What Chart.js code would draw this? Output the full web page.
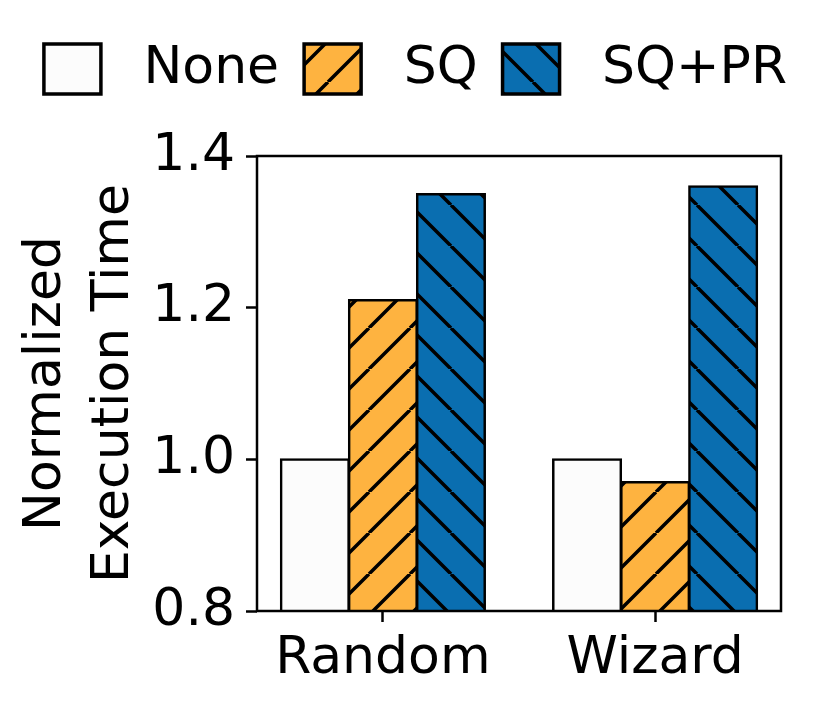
<!DOCTYPE html>
<html>
<head>
<meta charset="utf-8">
<script src="https://cdn.jsdelivr.net/npm/chart.js@4.4.0/dist/chart.umd.min.js"></script>
<style>
  html, body { margin: 0; padding: 0; background: #fff; }
  #wrap { width: 831px; height: 711px; }
</style>
</head>
<body>
<div id="wrap"><canvas id="c" width="831" height="711"></canvas></div>
<script>
// values
const groups = ['Random', 'Wizard'];
const seriesNames = ['None', 'SQ', 'SQ+PR'];
const noneValues = [1.0, 1.0];
const sqValues = [1.21, 0.97];
const sqprValues = [1.35, 1.36];
const yTicks = [0.8, 1.0, 1.2, 1.4];

const FONT = { family: 'DejaVu Sans', size: 52 };
const canvas = document.getElementById('c');
const ctx = canvas.getContext('2d');

// matplotlib-like hatch tile, '/' or '\'
function hatch(bg, dir) {
    const n = 41;
    const tile = document.createElement('canvas');
    tile.width = n;
    tile.height = n;
    const g = tile.getContext('2d');
    g.fillStyle = bg;
    g.fillRect(0, 0, n, n);
    g.strokeStyle = '#000';
    g.lineWidth = 3.5;
    g.beginPath();
    for (const k of [-1, 0, 1]) {
        if (dir === '/') {
            g.moveTo(k * n, n);
            g.lineTo(k * n + n, 0);
        } else {
            g.moveTo(k * n, 0);
            g.lineTo(k * n + n, n);
        }
    }
    g.stroke();
    return ctx.createPattern(tile, 'repeat');
}

const toPoints = vals => vals.map((v, i) => ({ x: i, y: v }));

const barStyle = {
    borderColor: '#000',
    borderWidth: 2.5,
    inflateAmount: 1,
    borderSkipped: false,
    categoryPercentage: 0.75,
    barPercentage: 1.0
};

// draws all four spines over the bars
const frame = {
    id: 'frame',
    afterDatasetsDraw(chart) {
        const { ctx, chartArea: a } = chart;
        ctx.save();
        ctx.strokeStyle = '#000';
        ctx.lineWidth = 2.5;
        ctx.strokeRect(a.left, a.top, a.right - a.left, a.bottom - a.top);
        ctx.restore();
    }
};

// keeps the legend box tall so the plot starts lower, like the figure
const legendGap = {
    id: 'legendGap',
    beforeUpdate(chart) {
        const lg = chart.legend;
        if (lg && !lg._gapped) {
            const fit = lg.fit.bind(lg);
            lg.fit = function () {
                fit();
                this.height = 138;
            };
            lg._gapped = true;
        }
    }
};

new Chart(ctx, {
    type: 'bar',
    data: {
        datasets: [
            { label: seriesNames[0], data: toPoints(noneValues), backgroundColor: '#fcfcfc', ...barStyle },
            { label: seriesNames[1], data: toPoints(sqValues), backgroundColor: hatch('#feb340', '/'), ...barStyle },
            { label: seriesNames[2], data: toPoints(sqprValues), backgroundColor: hatch('#0a6eb0', '\\'), ...barStyle }
        ]
    },
    plugins: [frame, legendGap],
    options: {
        responsive: false,
        animation: false,
        layout: { padding: { top: 18, right: 0, left: 0, bottom: 0 } },
        plugins: {
            tooltip: { enabled: false },
            legend: {
                position: 'top',
                labels: {
                    font: FONT,
                    color: '#000',
                    boxWidth: 57,
                    boxHeight: 50,
                    padding: 25,
                    generateLabels(chart) {
                        return Chart.defaults.plugins.legend.labels.generateLabels(chart)
                            .map(l => ({ ...l, text: ' ' + l.text, lineWidth: 3.5, strokeStyle: '#000' }));
                    }
                }
            }
        },
        scales: {
            x: {
                type: 'linear',
                min: -0.4625,
                max: 1.4625,
                offset: false,
                afterBuildTicks: s => { s.ticks = groups.map((g, i) => ({ value: i })); },
                afterFit: s => { s.height = 100; s.paddingRight = 50; },
                ticks: {
                    callback: v => groups[v],
                    font: FONT,
                    color: '#000',
                    padding: 6,
                    autoSkip: false,
                    maxRotation: 0
                },
                grid: { offset: false, drawOnChartArea: false, tickLength: 11, tickWidth: 2.5, tickColor: '#000' },
                border: { display: false }
            },
            y: {
                min: 0.8,
                max: 1.4,
                afterBuildTicks: s => { s.ticks = yTicks.map(v => ({ value: v })); },
                afterFit: s => { s.width = 257; },
                ticks: {
                    callback: v => v.toFixed(1),
                    font: FONT,
                    color: '#000',
                    padding: 11
                },
                grid: { drawOnChartArea: false, tickLength: 11, tickWidth: 2.5, tickColor: '#000' },
                border: { display: false },
                title: {
                    display: true,
                    text: ['Normalized', 'Execution Time'],
                    font: { ...FONT, lineHeight: 1.3 },
                    color: '#000',
                    padding: { top: 13, bottom: 0 }
                }
            }
        }
    }
});
</script>
</body>
</html>
